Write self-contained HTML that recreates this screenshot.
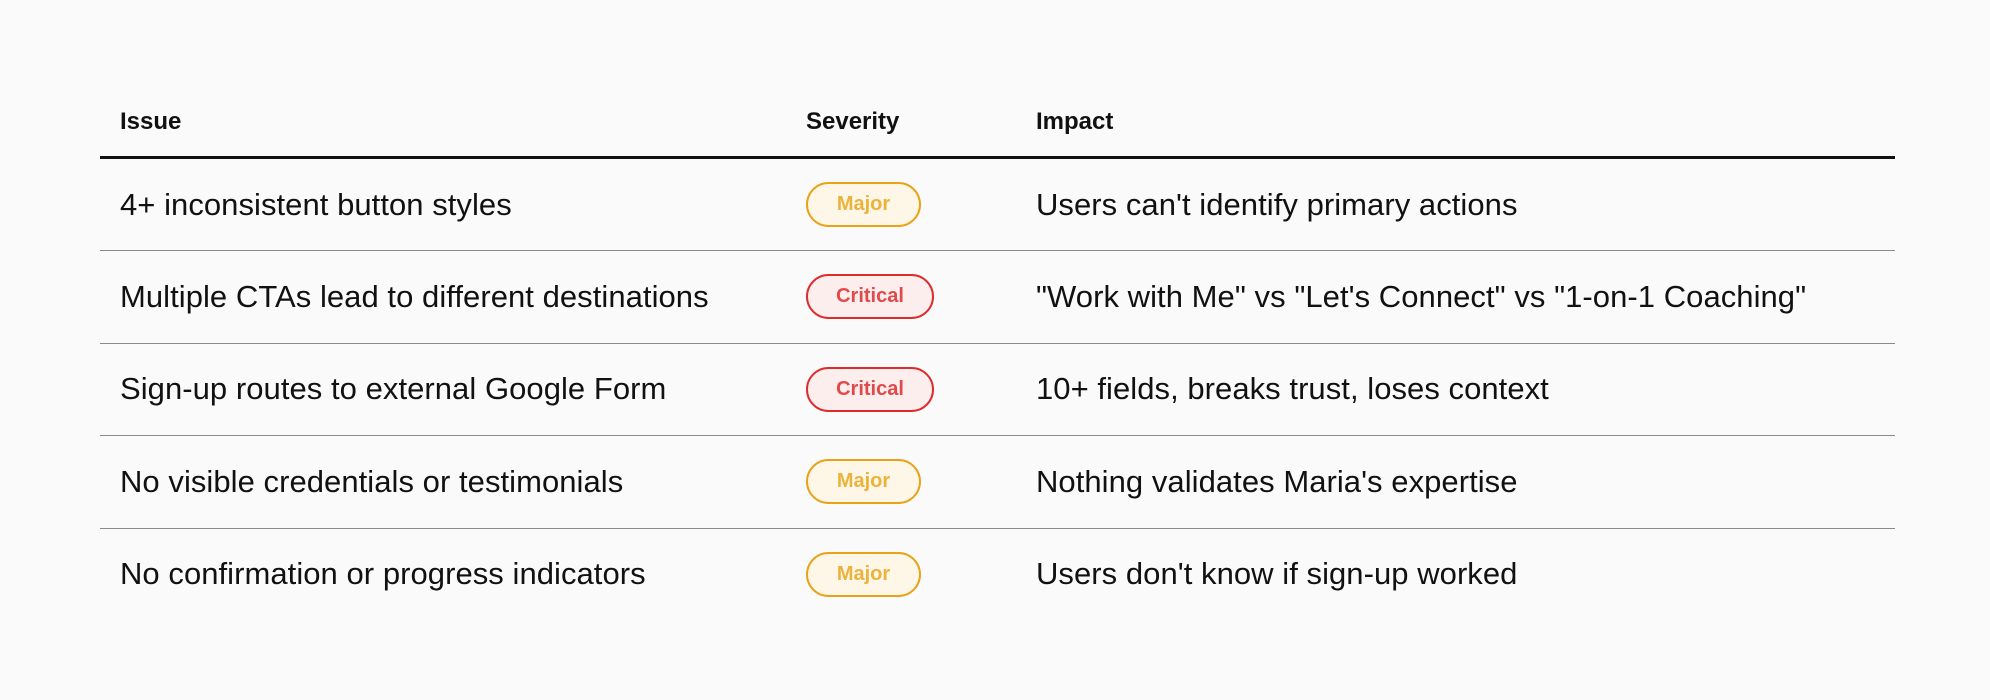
<!DOCTYPE html>
<html>
<head>
<meta charset="utf-8">
<style>
  html, body { margin:0; padding:0; }
  body { width:1990px; height:700px; background:#fafafa; position:relative; overflow:hidden;
         font-family:"Liberation Sans", Arial, sans-serif; color:#111; }
  .h { position:absolute; top:110px; font-size:24px; font-weight:bold; line-height:24px; white-space:nowrap; color:#111; }
  .thick { position:absolute; left:100px; width:1795px; top:156px; height:3px; background:#111; }
  .div { position:absolute; left:100px; width:1795px; height:1px; background:#8a8a8a; }
  .t { position:absolute; font-size:31px; line-height:40px; letter-spacing:0.05px; white-space:nowrap; color:#111; }
  .b { position:absolute; left:806px; height:45px; box-sizing:border-box; border-radius:23px; border:2px solid;
       font-size:20px; font-weight:bold; line-height:41px; text-align:center; white-space:nowrap; }
  .major { width:115px; border-color:#e8a317; background:#fef7e7; color:#ebb33b; }
  .crit { width:128px; border-color:#de2b2b; background:#fdeeee; color:#e04a4a; }
</style>
</head>
<body>
  <div class="h" style="left:120px;">Issue</div>
  <div class="h" style="left:806px;">Severity</div>
  <div class="h" style="left:1036px;">Impact</div>
  <div class="thick"></div>

  <div class="t" style="left:120px; top:185px;">4+ inconsistent button styles</div>
  <div class="b major" style="top:182px;">Major</div>
  <div class="t" style="left:1036px; top:185px;">Users can't identify primary actions</div>
  <div class="div" style="top:250px;"></div>

  <div class="t" style="left:120px; top:277px;">Multiple CTAs lead to different destinations</div>
  <div class="b crit" style="top:274px;">Critical</div>
  <div class="t" style="left:1036px; top:277px;">"Work with Me" vs "Let's Connect" vs "1-on-1 Coaching"</div>
  <div class="div" style="top:343px;"></div>

  <div class="t" style="left:120px; top:369px;">Sign-up routes to external Google Form</div>
  <div class="b crit" style="top:367px;">Critical</div>
  <div class="t" style="left:1036px; top:369px;">10+ fields, breaks trust, loses context</div>
  <div class="div" style="top:435px;"></div>

  <div class="t" style="left:120px; top:462px;">No visible credentials or testimonials</div>
  <div class="b major" style="top:459px;">Major</div>
  <div class="t" style="left:1036px; top:462px;">Nothing validates Maria's expertise</div>
  <div class="div" style="top:528px;"></div>

  <div class="t" style="left:120px; top:554px;">No confirmation or progress indicators</div>
  <div class="b major" style="top:552px;">Major</div>
  <div class="t" style="left:1036px; top:554px;">Users don't know if sign-up worked</div>
</body>
</html>
